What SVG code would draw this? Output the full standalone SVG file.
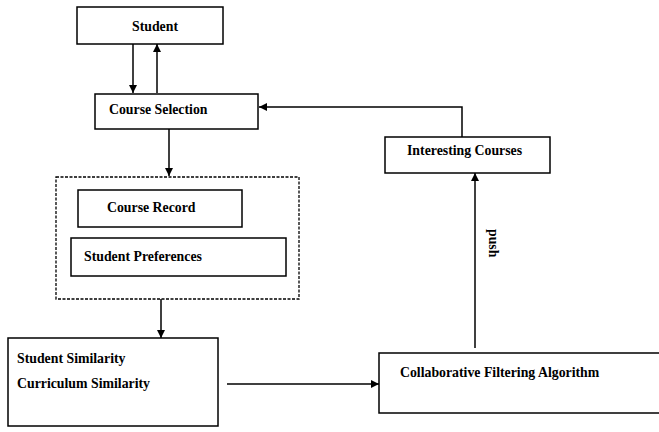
<svg xmlns="http://www.w3.org/2000/svg" width="659" height="432" viewBox="0 0 659 432">
<defs>
<style>
.box{fill:#fff;stroke:#000;stroke-width:1.5}
.dash{fill:none;stroke:#000;stroke-width:1.3;stroke-dasharray:3,1.5}
.t{font-family:"Liberation Serif",serif;font-weight:bold;font-size:13.8px;fill:#000}
.c{fill:none;stroke:#000;stroke-width:1.5}
</style>
<marker id="ah" viewBox="0 0 10 10" refX="10" refY="5" markerWidth="8" markerHeight="8" markerUnits="userSpaceOnUse" orient="auto">
<path d="M0,0 L10,5 L0,10 z" fill="#000"/>
</marker>
</defs>
<rect width="659" height="432" fill="#fff"/>
<g id="connectors">
<line class="c" x1="133" y1="44" x2="133" y2="93" marker-end="url(#ah)"/>
<line class="c" x1="157" y1="93" x2="157" y2="44" marker-end="url(#ah)"/>
<polyline class="c" points="462,137 462,107 259,107" marker-end="url(#ah)"/>
<line class="c" x1="169" y1="129" x2="169" y2="176" marker-end="url(#ah)"/>
<line class="c" x1="161" y1="299" x2="161" y2="338" marker-end="url(#ah)"/>
<line class="c" x1="227" y1="384" x2="379" y2="384" marker-end="url(#ah)"/>
<line class="c" x1="475" y1="348" x2="475" y2="173" marker-end="url(#ah)"/>
<text class="t" transform="translate(489,229) rotate(90)">push</text>
</g>
<g id="student">
<rect class="box" x="77" y="7" width="146" height="37"/>
<text class="t" x="132" y="31">Student</text>
</g>
<g id="course-selection">
<rect class="box" x="95" y="94" width="163" height="35"/>
<text class="t" x="109" y="114">Course Selection</text>
</g>
<g id="data-group">
<rect class="dash" x="56" y="177" width="243" height="122"/>
</g>
<g id="course-record">
<rect class="box" x="78" y="190" width="164" height="37"/>
<text class="t" x="107" y="212">Course Record</text>
</g>
<g id="student-preferences">
<rect class="box" x="71" y="238" width="215" height="38"/>
<text class="t" x="84" y="261">Student Preferences</text>
</g>
<g id="similarity">
<rect class="box" x="8" y="338" width="210" height="88"/>
<text class="t" x="17" y="363">Student Similarity</text>
<text class="t" x="17" y="388">Curriculum Similarity</text>
</g>
<g id="interesting-courses">
<rect class="box" x="385" y="137" width="165" height="36"/>
<text class="t" x="407" y="155">Interesting Courses</text>
</g>
<g id="cf-algorithm">
<rect class="box" x="379" y="353" width="290" height="60"/>
<text class="t" x="400" y="377">Collaborative Filtering Algorithm</text>
</g>
</svg>
